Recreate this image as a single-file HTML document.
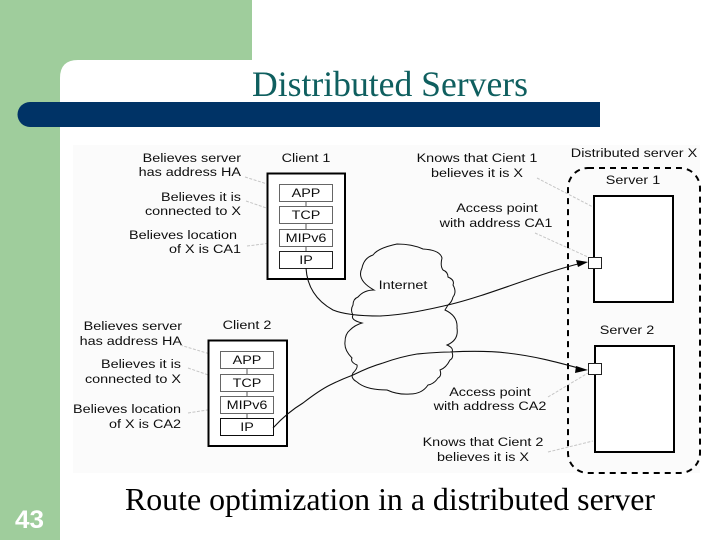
<!DOCTYPE html>
<html>
<head>
<meta charset="utf-8">
<style>
html,body{margin:0;padding:0;background:#fff;width:720px;height:540px;overflow:hidden}
svg{display:block}
.d text{font-family:"Liberation Sans",Arial,sans-serif;font-size:12px;fill:#111}
.t{font-family:"Liberation Serif","Times New Roman",serif}
</style>
</head>
<body>
<svg width="720" height="540" viewBox="0 0 720 540" xmlns="http://www.w3.org/2000/svg">
<defs><filter id="b" x="-2%" y="-2%" width="104%" height="104%"><feGaussianBlur stdDeviation="0.25"/></filter></defs>
<rect width="720" height="540" fill="#fff"/>
<path d="M0 0H252V60H78Q60 60 60 78V540H0Z" fill="#9fcd9c"/>
<path d="M30 102H600V127H30A12.500 12.500 0 0 1 30 102Z" fill="#003366"/>
<text class="t" x="252" y="96" font-size="36" fill="#0f5f5f" textLength="276" lengthAdjust="spacingAndGlyphs">Distributed Servers</text>
<rect x="73" y="145" width="627" height="328" fill="#fbfbfb"/>
<g class="d" filter="url(#b)">
<g fill="none" stroke="#c6c6c6" stroke-width="1" stroke-dasharray="3 1.500">
<path d="M245 177L280 188M246 201L278 212M247 246L279 242M537 178L593 207M535 233L588 257M180 345L220 357M188 368L220 379M188 413L220 408M548 397L588 373M548 452L593 441"/>
</g>
<path d="M374 290Q356 280 362 268Q364 258 373 255Q378 248 397 244Q412 244 423 249Q440 250 442 258Q440 266 443 270Q448 272 448 277Q455 280 453 285Q457 292 453 297Q452 302 448 305L445 310Q458 316 457 328Q459 340 447 345Q454 348 452 352Q454 358 450 360Q446 368 440 370Q442 376 438 378Q434 384 428 385Q422 394 410 394Q398 395 387 390Q366 390 357 382Q350 378 353 373Q358 368 357 365Q350 362 352 358Q344 350 345 342Q345 334 350 330Q355 325 362 323Q350 320 353 315Q350 310 353 305Q353 299 358 297Q364 290 374 290Z" fill="#fbfbfb" stroke="#111" stroke-width="1"/>
<rect x="267.500" y="173.500" width="77.500" height="105.500" fill="#fff" stroke="#000" stroke-width="2"/>
<rect x="208.500" y="340.500" width="78.500" height="105.500" fill="#fff" stroke="#000" stroke-width="2"/>
<g stroke="#555" stroke-width="1" fill="none">
<path d="M306 201V206M306 223V229M306 246V251M247 368V374M247 391V396M247 413V418"/>
<g fill="#fff">
<rect x="279.500" y="184.500" width="53" height="17" stroke="#666"/>
<rect x="279.500" y="206.500" width="53" height="17" stroke="#666"/>
<rect x="279.500" y="229.500" width="53" height="17" stroke="#666"/>
<rect x="279.500" y="251.500" width="53" height="17" stroke="#222"/>
<rect x="220.500" y="351.500" width="53" height="17" stroke="#666"/>
<rect x="220.500" y="374.500" width="53" height="17" stroke="#666"/>
<rect x="220.500" y="396.500" width="53" height="17" stroke="#666"/>
<rect x="220.500" y="418.500" width="53" height="17" stroke="#111"/>
</g>
</g>
<rect x="568" y="168" width="132" height="305" rx="20" ry="20" fill="none" stroke="#000" stroke-width="2" stroke-dasharray="6 5"/>
<rect x="594" y="196" width="79" height="106" fill="#fff" stroke="#000" stroke-width="2"/>
<rect x="595" y="346" width="79" height="106" fill="#fff" stroke="#000" stroke-width="2"/>
<rect x="588.500" y="257.500" width="13" height="11" fill="#fff" stroke="#222"/>
<rect x="588.500" y="363.500" width="13" height="11" fill="#fff" stroke="#222"/>
<path d="M306 268C307 285 315 300 333 310C345 315 362 316 380 316C405 315 430 309 448 305C490 295 540 273 582 263" fill="none" stroke="#111" stroke-width="1.100"/>
<path d="M273 428C283 417 293 409 303 403C312 396 320 390 330 385C338 381 345 378 353 375C363 370 372 366 383 363C394 359 405 356 417 354C428 353 438 352 450 352C470 351 490 351 507 353C535 356 560 363 582 369" fill="none" stroke="#111" stroke-width="1.100"/>
<path d="M588 262L576 260L578 267Z" fill="#000"/>
<path d="M588 370L576 366L575 373Z" fill="#000"/>

<g text-anchor="end">
<text transform="translate(241 162) scale(1.2 1)">Believes server</text>
<text transform="translate(241 176) scale(1.2 1)">has address HA</text>
<text transform="translate(241 201) scale(1.2 1)">Believes it is</text>
<text transform="translate(241 215) scale(1.2 1)">connected to X</text>
<text transform="translate(237 239) scale(1.2 1)">Believes location</text>
<text transform="translate(241 253) scale(1.2 1)">of X is CA1</text>
<text transform="translate(182 330) scale(1.2 1)">Believes server</text>
<text transform="translate(182 345) scale(1.2 1)">has address HA</text>
<text transform="translate(181 368) scale(1.2 1)">Believes it is</text>
<text transform="translate(181 383) scale(1.2 1)">connected to X</text>
<text transform="translate(181 413) scale(1.2 1)">Believes location</text>
<text transform="translate(181 428) scale(1.2 1)">of X is CA2</text>
</g>
<g text-anchor="middle">
<text transform="translate(306 162) scale(1.2 1)">Client 1</text>
<text transform="translate(247 329) scale(1.2 1)">Client 2</text>
<text transform="translate(306 197) scale(1.2 1)">APP</text>
<text transform="translate(306 219) scale(1.2 1)">TCP</text>
<text transform="translate(306 242) scale(1.2 1)">MIPv6</text>
<text transform="translate(306 264) scale(1.2 1)">IP</text>
<text transform="translate(247 364) scale(1.2 1)">APP</text>
<text transform="translate(247 387) scale(1.2 1)">TCP</text>
<text transform="translate(247 409) scale(1.2 1)">MIPv6</text>
<text transform="translate(247 431) scale(1.2 1)">IP</text>
<text transform="translate(403 289) scale(1.2 1)">Internet</text>
<text transform="translate(477 162) scale(1.2 1)">Knows that Cient 1</text>
<text transform="translate(477 177) scale(1.2 1)">believes it is X</text>
<text transform="translate(634 157) scale(1.2 1)">Distributed server X</text>
<text transform="translate(633 184) scale(1.2 1)">Server 1</text>
<text transform="translate(497 212) scale(1.2 1)">Access point</text>
<text transform="translate(496 227) scale(1.2 1)">with address CA1</text>
<text transform="translate(627 334) scale(1.2 1)">Server 2</text>
<text transform="translate(490 396) scale(1.2 1)">Access point</text>
<text transform="translate(490 410) scale(1.2 1)">with address CA2</text>
<text transform="translate(483 446) scale(1.2 1)">Knows that Cient 2</text>
<text transform="translate(483 461) scale(1.2 1)">believes it is X</text>
</g>
</g>
<text class="t" x="125" y="510" font-size="32" fill="#000" textLength="530" lengthAdjust="spacingAndGlyphs">Route optimization in a distributed server</text>
<text x="15" y="528" font-family="'Liberation Sans',Arial,sans-serif" font-size="25" font-weight="bold" fill="#fff" textLength="29" lengthAdjust="spacingAndGlyphs">43</text>
</svg>
</body>
</html>
